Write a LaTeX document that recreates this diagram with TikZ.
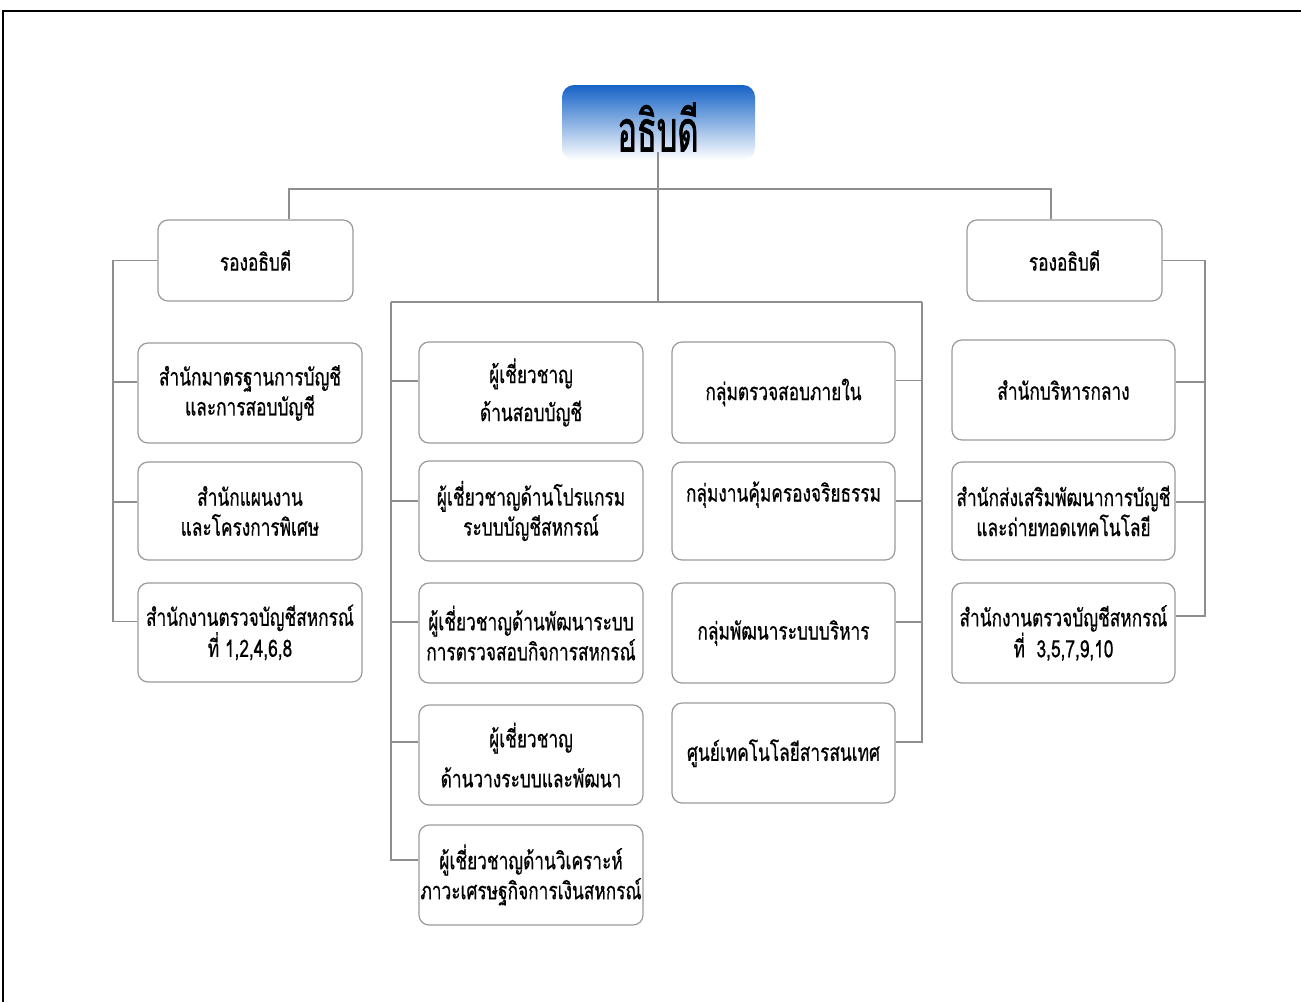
\documentclass[tikz,border=0pt]{standalone}
\usepackage{fontspec}
\newfontfamily\thaifont[Script=Thai,FakeStretch=0.72,FakeBold=0.6]{Loma}
\newfontfamily\titlefont[Script=Thai,FakeStretch=0.56,FakeBold=1.2]{Loma}
\definecolor{boxgray}{HTML}{9A9A9A}
\definecolor{linegray}{HTML}{8E8E8E}
\definecolor{topblue}{HTML}{1663C7}
\begin{document}
\begin{tikzpicture}[x=1pt,y=-1pt,
  box/.style={draw=boxgray, line width=1.2pt, rounded corners=10pt, fill=white,
    align=center, inner sep=0pt, font=\thaifont\fontsize{24}{30}\selectfont},
  dep/.style={box, minimum width=195pt, minimum height=81pt},
  unit/.style={box, minimum width=224pt, minimum height=100pt},
  conn/.style={draw=linegray, line width=1.4pt}]
\useasboundingbox (0,0) rectangle (1301,1002);
\fill[white] (0,0) rectangle (1301,1002);
\draw[line width=2pt] (3,1002) -- (3,11) -- (1301,11);

% title
\shade[top color=topblue, bottom color=white, rounded corners=12pt] (562,85) rectangle (755,160);
\node[inner sep=0pt, font=\titlefont\fontsize{58}{58}\selectfont] (top) at (658,127) {อธิบดี};

% left column
\node[dep] (LD) at (255.5,260.5) {รองอธิบดี};
\node[unit] (L1) at (250,393) {สำนักมาตรฐานการบัญชี\\และการสอบบัญชี};
\node[unit, minimum height=98pt] (L2) at (250,511) {สำนักแผนงาน\\และโครงการพิเศษ};
\node[unit, minimum height=99pt] (L3) at (250,632.5) {สำนักงานตรวจบัญชีสหกรณ์\\ที่ 1,2,4,6,8};

% middle-left column
\node[unit, minimum height=101pt] (M1) at (531,392.5) {ผู้เชี่ยวชาญ\\[8pt]ด้านสอบบัญชี};
\node[unit] (M2) at (531,511) {ผู้เชี่ยวชาญด้านโปรแกรม\\ระบบบัญชีสหกรณ์};
\node[unit] (M3) at (531,633) {ผู้เชี่ยวชาญด้านพัฒนาระบบ\\การตรวจสอบกิจการสหกรณ์};
\node[unit] (M4) at (531,755) {ผู้เชี่ยวชาญ\\[10pt]ด้านวางระบบและพัฒนา};
\node[unit] (M5) at (531,875) {ผู้เชี่ยวชาญด้านวิเคราะห์\\ภาวะเศรษฐกิจการเงินสหกรณ์};

% middle-right column
\node[unit, minimum width=223pt, minimum height=101pt] (R1) at (783.5,392.5) {กลุ่มตรวจสอบภายใน};
\node[unit, minimum width=223pt, minimum height=98pt] (R2) at (783.5,511) {กลุ่มงานคุ้มครองจริยธรรม\\\strut};
\node[unit, minimum width=223pt] (R3) at (783.5,633) {กลุ่มพัฒนาระบบบริหาร};
\node[unit, minimum width=223pt] (R4) at (783.5,753) {\\[-8pt]ศูนย์เทคโนโลยีสารสนเทศ};

% right column
\node[dep] (RD) at (1064.5,260.5) {รองอธิบดี};
\node[unit, minimum width=223pt] (RR1) at (1063.5,390) {สำนักบริหารกลาง};
\node[unit, minimum width=223pt, minimum height=98pt] (RR2) at (1063.5,511) {สำนักส่งเสริมพัฒนาการบัญชี\\และถ่ายทอดเทคโนโลยี};
\node[unit, minimum width=223pt] (RR3) at (1063.5,633) {สำนักงานตรวจบัญชีสหกรณ์\\ที่\ \ 3,5,7,9,10};

% spines and hubs
\coordinate (hubA) at (658,189);
\coordinate (hubB) at (658,302);
\coordinate (tl) at (289,189);
\coordinate (tr) at (1051,189);
\coordinate (lsp) at (113,0);
\coordinate (msp) at (391,0);
\coordinate (nsp) at (922,0);
\coordinate (rsp) at (1205,0);

% top connectors
\draw[conn] (top.south) -- (hubA) -- (hubB);
\draw[conn] (LD.north -| tl) -- (tl) -- (tr) -- (RD.north -| tr);
\draw[conn] (msp |- hubB) -- (nsp |- hubB);

% left branches
\coordinate (l1b) at ([yshift=11pt]L1.west);
\coordinate (l2b) at ([yshift=9pt]L2.west);
\coordinate (l3b) at ([yshift=11pt]L3.west);
\draw[conn] (LD.west) -- (LD.west -| lsp) -- (l3b -| lsp) -- (l3b);
\draw[conn] (l1b -| lsp) -- (l1b);
\draw[conn] (l2b -| lsp) -- (l2b);

% middle-left branches
\coordinate (m1b) at ([yshift=11.5pt]M1.west);
\coordinate (m2b) at ([yshift=10pt]M2.west);
\coordinate (m3b) at ([yshift=11pt]M3.west);
\coordinate (m4b) at ([yshift=13pt]M4.west);
\coordinate (m5b) at ([yshift=15pt]M5.west);
\draw[conn] (msp |- hubB) -- (m5b -| msp) -- (m5b);
\draw[conn] (m1b -| msp) -- (m1b);
\draw[conn] (m2b -| msp) -- (m2b);
\draw[conn] (m3b -| msp) -- (m3b);
\draw[conn] (m4b -| msp) -- (m4b);

% middle-right branches
\coordinate (r1b) at ([yshift=12pt]R1.east);
\coordinate (r2b) at ([yshift=10pt]R2.east);
\coordinate (r3b) at ([yshift=11pt]R3.east);
\coordinate (r4b) at ([yshift=11pt]R4.east);
\draw[conn] (nsp |- hubB) -- (r4b -| nsp) -- (r4b);
\draw[conn] (r1b -| nsp) -- (r1b);
\draw[conn] (r2b -| nsp) -- (r2b);
\draw[conn] (r3b -| nsp) -- (r3b);

% right branches
\coordinate (q1b) at ([yshift=8pt]RR1.east);
\coordinate (q2b) at ([yshift=9pt]RR2.east);
\coordinate (q3b) at ([yshift=17pt]RR3.east);
\draw[conn] (RD.east) -- (RD.east -| rsp) -- (q3b -| rsp) -- (q3b);
\draw[conn] (q1b -| rsp) -- (q1b);
\draw[conn] (q2b -| rsp) -- (q2b);
\end{tikzpicture}
\end{document}
